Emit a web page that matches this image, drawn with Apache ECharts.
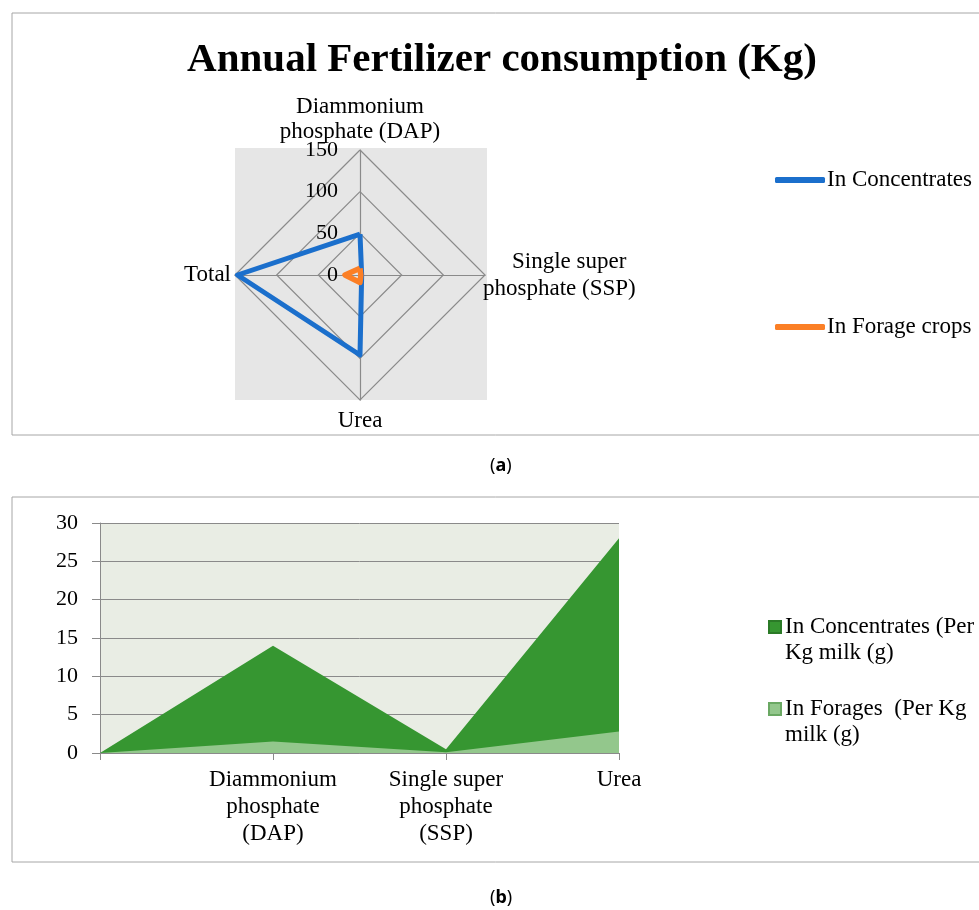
<!DOCTYPE html>
<html>
<head>
<meta charset="utf-8">
<script src="https://cdn.jsdelivr.net/npm/echarts@6/dist/echarts.min.js"></script>
<style>
  html, body { margin: 0; padding: 0; background: #fff; }
  #main { width: 979px; height: 910px; }
</style>
</head>
<body>
<div id="main"></div>
<script>
  // (a) radar: annual fertilizer consumption (Kg)
  const radarNames = ['Diammonium\nphosphate (DAP)', 'Single super\nphosphate (SSP)', 'Urea', 'Total']
  const radarConcentrates = [49, 2, 96, 147]
  const radarForage = [8, 1, 9, 18]
  const radarMax = 150
  // (b) area: per Kg milk (g)
  const areaCategories = ['', 'Diammonium\nphosphate\n(DAP)', 'Single super\nphosphate\n(SSP)', 'Urea']
  const areaConcentrates = [0, 14, 0.5, 28]
  const areaForages = [0, 1.5, 0.1, 2.8]

  const FONT = 'Liberation Serif'
  const GRAY = '#8a8a8a'
  // ECharts places radar axes counter-clockwise from the top
  const order = [0, 3, 2, 1]
  // name gap per indicator, same order as radarNames
  const nameGaps = [6, -2, 8, 4]

  const chart = echarts.init(document.getElementById('main'))

  const indicators = order.map((i, k) => {
    const ind = { name: radarNames[i], min: 0, max: radarMax, nameGap: nameGaps[i], nameMoveOverlap: false }
    if (k === 0) ind.axisLabel = { show: true }
    return ind
  })

  const caption = (letter, top) => ({
    type: 'text', left: 490, top: top,
    style: {
      text: '{n|(}{b|' + letter + '}{n|)}',
      rich: {
        n: { fontFamily: 'Noto Sans', fontSize: 18, color: '#000' },
        b: { fontFamily: 'Noto Sans', fontSize: 18, fontWeight: 'bold', color: '#000' }
      }
    }
  })

  const options = {
    animation: false,
    title: {
      text: 'Annual Fertilizer consumption (Kg)',
      left: 502,
      top: 40,
      textAlign: 'center',
      padding: 0,
      textStyle: { fontFamily: FONT, fontSize: 41, fontWeight: 'bold', color: '#000' }
    },
    graphic: [
      { type: 'polyline', z: 0, shape: { points: [[979, 13], [12, 13], [12, 435], [979, 435]] }, style: { stroke: '#a6a6a6', fill: null, lineWidth: 1 } },
      { type: 'polyline', z: 0, shape: { points: [[979, 497], [12, 497], [12, 862], [979, 862]] }, style: { stroke: '#a6a6a6', fill: null, lineWidth: 1 } },
      { type: 'rect', z: -10, shape: { x: 235, y: 148, width: 252, height: 252 }, style: { fill: '#e6e6e6' } },
      caption('a', 457),
      caption('b', 889)
    ],
    legend: [{
      data: ['In Concentrates', 'In Forage crops'],
      orient: 'vertical',
      left: 775,
      top: 168,
      padding: 0,
      itemGap: 123,
      itemWidth: 50,
      itemHeight: 6,
      icon: 'roundRect',
      textStyle: { fontFamily: FONT, fontSize: 23, color: '#000', lineHeight: 24, padding: [0, 0, 0, -3] }
    }, {
      data: ['In Concentrates (Per Kg milk (g)', 'In Forages  (Per Kg milk (g)'],
      orient: 'vertical',
      left: 768,
      top: 588,
      padding: 0,
      itemGap: 4,
      itemWidth: 12,
      itemHeight: 12,
      icon: 'rect',
      formatter: function (name) {
        // blank first line keeps the icon level with the first text line
        return name === 'In Concentrates (Per Kg milk (g)' ? '\nIn Concentrates (Per\nKg milk (g)' : '\nIn Forages  (Per Kg\nmilk (g)'
      },
      textStyle: { fontFamily: FONT, fontSize: 23, color: '#000', lineHeight: 26, padding: [0, 0, 0, -1] }
    }],
    radar: {
      center: [360, 275],
      radius: 125,
      startAngle: 90,
      shape: 'polygon',
      splitNumber: 3,
      indicator: indicators,
      axisName: {
        color: '#000',
        fontFamily: FONT,
        fontSize: 23,
        lineHeight: 25,
        formatter: function (name) {
          if (name === radarNames[1]) {
            return '{a|Single super}\n{b|phosphate (SSP)}'
          }
          return name
        },
        rich: {
          a: { fontFamily: FONT, fontSize: 23, lineHeight: 27, color: '#000', padding: [0, 0, 0, 29] },
          b: { fontFamily: FONT, fontSize: 23, lineHeight: 27, color: '#000' }
        }
      },
      axisLine: { lineStyle: { color: GRAY, width: 1.2 } },
      splitLine: { lineStyle: { color: GRAY, width: 1.2 } },
      splitArea: { show: false },
      axisTick: { show: false },
      axisLabel: { show: false, color: '#000', fontFamily: FONT, fontSize: 22, margin: 22 }
    },
    grid: {
      left: 100,
      right: 360,
      top: 523,
      bottom: 157,
      show: true,
      backgroundColor: '#e9ede4',
      borderWidth: 0
    },
    xAxis: {
      type: 'category',
      boundaryGap: false,
      data: areaCategories,
      axisLine: { lineStyle: { color: GRAY } },
      axisTick: { show: true, length: 7, lineStyle: { color: GRAY } },
      axisLabel: { color: '#000', fontFamily: FONT, fontSize: 23, lineHeight: 27, margin: 13, interval: 0 }
    },
    yAxis: {
      type: 'value',
      min: 0,
      max: 30,
      interval: 5,
      axisLine: { show: true, lineStyle: { color: GRAY } },
      axisTick: { show: true, length: 8, lineStyle: { color: GRAY } },
      splitLine: { lineStyle: { color: GRAY } },
      axisLabel: { color: '#000', fontFamily: FONT, fontSize: 22, margin: 22 }
    },
    series: [{
      type: 'radar',
      symbol: 'none',
      data: [{
        name: 'In Concentrates',
        value: order.map(i => radarConcentrates[i]),
        itemStyle: { color: '#1b6fcc' },
        lineStyle: { color: '#1b6fcc', width: 5 }
      }, {
        name: 'In Forage crops',
        value: order.map(i => radarForage[i]),
        itemStyle: { color: '#fb7f26' },
        lineStyle: { color: '#fb7f26', width: 5.5 }
      }]
    }, {
      name: 'In Concentrates (Per Kg milk (g)',
      type: 'line',
      symbol: 'none',
      data: areaConcentrates,
      itemStyle: { color: '#369631', borderColor: '#2b7a27', borderWidth: 1 },
      lineStyle: { width: 0, color: '#369631' },
      areaStyle: { color: '#369631', opacity: 1 }
    }, {
      name: 'In Forages  (Per Kg milk (g)',
      type: 'line',
      symbol: 'none',
      data: areaForages,
      itemStyle: { color: '#93c78c', borderColor: '#6aa863', borderWidth: 1 },
      lineStyle: { width: 0, color: '#93c78c' },
      areaStyle: { color: '#93c78c', opacity: 1 }
    }]
  }

  chart.setOption(options)
</script>
</body>
</html>
